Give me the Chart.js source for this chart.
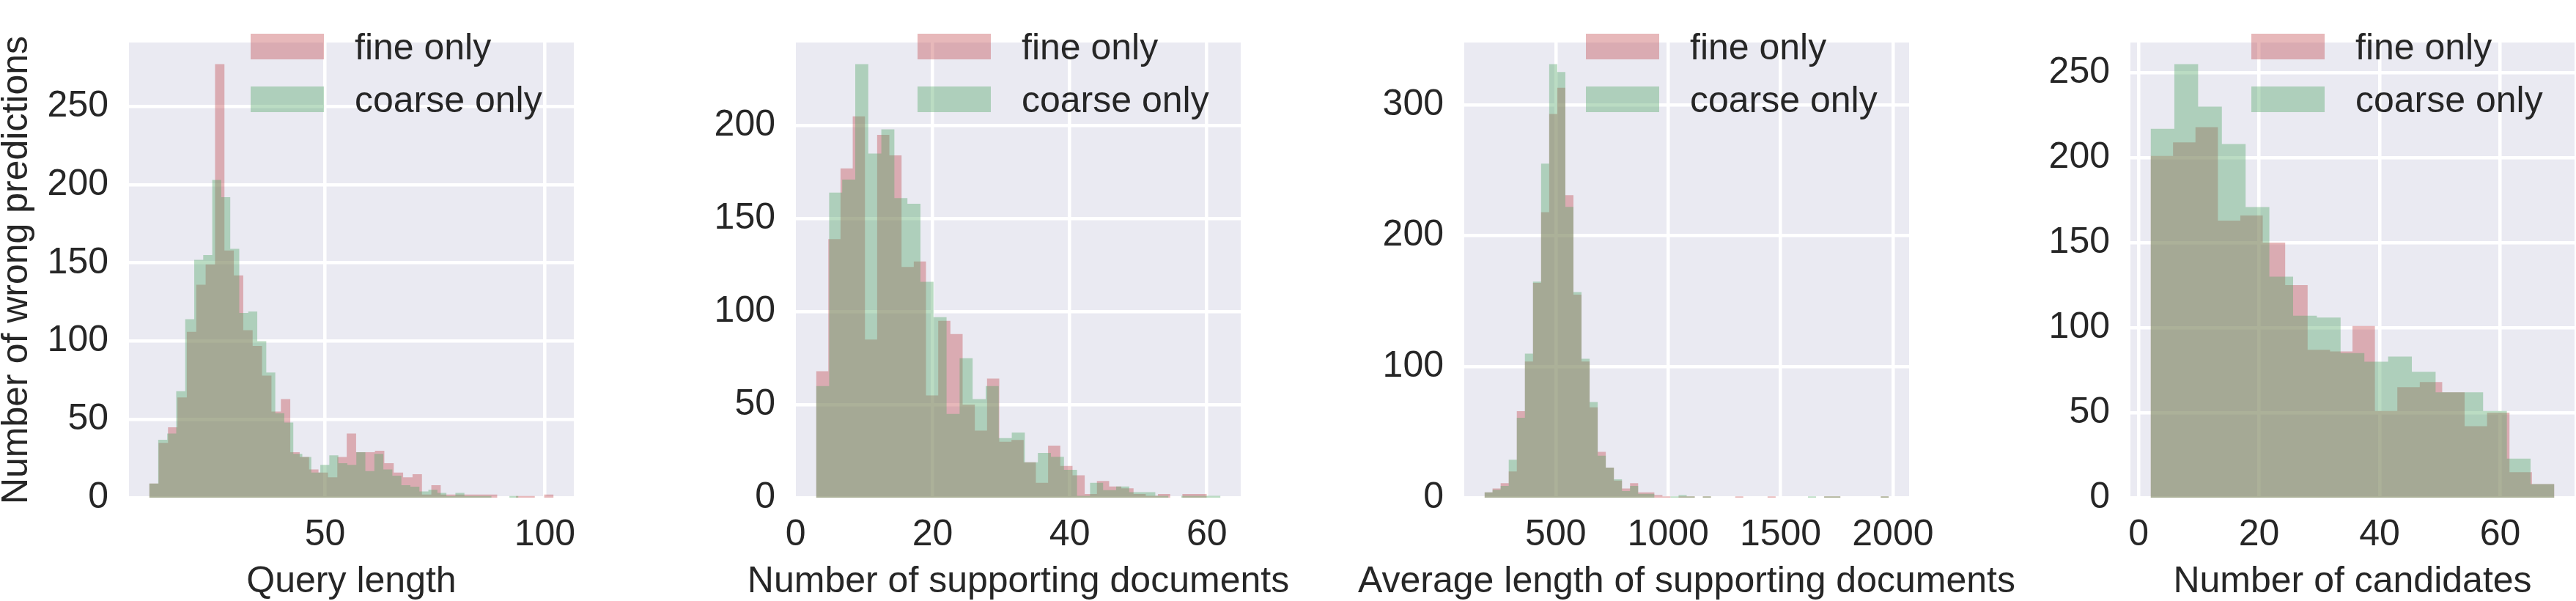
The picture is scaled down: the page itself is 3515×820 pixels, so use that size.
<!DOCTYPE html>
<html>
<head>
<meta charset="utf-8">
<script src="https://cdn.jsdelivr.net/npm/chart.js@4.4.0/dist/chart.umd.min.js"></script>
<style>
html,body{margin:0;padding:0;background:#ffffff;width:3515px;height:820px;overflow:hidden}
canvas{position:absolute;left:0;top:0}
</style>
</head>
<body>
<canvas id="c1" width="3515" height="820"></canvas>
<canvas id="c2" width="3515" height="820"></canvas>
<canvas id="c3" width="3515" height="820"></canvas>
<canvas id="c4" width="3515" height="820"></canvas>
<script>
// ---------------- DATA ----------------
const seriesNames = ['fine only', 'coarse only'];

// Panel 1: Query length
const qlFineRange = [10, 102];
const qlFine = [9,35,45,64,106,136,149,277,158,142,107,97,78,55,63,29,26,18,16,13,26,41,29,29,30,22,16,13,15,2,8,2,2,2,2,2,2,0,0,1,1,0,2];
const qlCoarseRange = [10, 94];
const qlCoarse = [9,37,41,68,114,152,155,203,192,159,118,119,100,80,54,48,28,26,16,21,27,22,21,29,17,28,18,14,8,7,4,5,3,1,3,1,1,1,0,0,1];
const qlXTicks = [50, 100];
const qlYTicks = [0, 50, 100, 150, 200, 250];

// Panel 2: Number of supporting documents
const sdFineRange = [3, 60];
const sdFine = [68,139,177,205,85,195,184,124,127,55,95,88,50,36,64,30,31,19,8,28,17,12,2,9,6,5,2,1,2,0,2,2];
const sdCoarseRange = [3, 62];
const sdCoarse = [60,164,171,233,185,198,161,158,116,97,45,75,53,60,32,35,19,24,22,15,1,8,4,6,3,3,1,0,1,1,1];
const sdXTicks = [0, 20, 40, 60];
const sdYTicks = [0, 50, 100, 150, 200];

// Panel 3: Average length of supporting documents
const alFineRange = [183, 1982];
const alFine = [4,7,11,20,66,104,164,218,293,313,231,155,104,69,35,23,13,7,11,4,4,2,1,0,1,1,0,1,0,0,0,1,0,0,0,1,0,0,0,0,0,0,1,1,0,0,0,0,0,1];
const alCoarseRange = [183, 1982];
const alCoarse = [4,6,9,29,61,110,165,255,331,325,222,157,106,73,32,23,14,5,9,3,3,0,0,1,2,1,0,1,0,0,0,0,0,0,0,0,0,0,0,0,1,0,1,1,0,0,0,0,0,1];
const alXTicks = [500, 1000, 1500, 2000];
const alYTicks = [0, 100, 200, 300];

// Panel 4: Number of candidates
const ncFineRange = [2, 69];
const ncFine = [201,209,218,163,166,150,125,87,86,101,51,65,68,62,42,50,15,8];
const ncCoarseRange = [2, 69];
const ncCoarse = [217,255,230,208,171,130,107,106,85,80,83,74,62,62,51,23,8];
const ncXTicks = [0, 20, 40, 60];
const ncYTicks = [0, 50, 100, 150, 200, 250];

const xTitles = ['Query length', 'Number of supporting documents', 'Average length of supporting documents', 'Number of candidates'];
const yTitle = 'Number of wrong predictions';

// ---------------- STYLE / LAYOUT ----------------
const FONT = '"Liberation Sans", Arial, Helvetica, sans-serif';
const FS = 50;
const TEXT = '#262626';
const PLOT_BG = '#EAEAF2';
const FINE_FILL = 'rgba(196,78,82,0.4)';
const COARSE_FILL = 'rgba(85,168,104,0.4)';
const W = 3515, H = 820;
const PLOT_BOTTOM = 679;

const panels = [
  {id:'c1', fine:qlFine, fineR:qlFineRange, coarse:qlCoarse, coarseR:qlCoarseRange, xt:qlXTicks, yt:qlYTicks, xTitle:xTitles[0], yTitle:yTitle, left:176, right:783, axw:176},
  {id:'c2', fine:sdFine, fineR:sdFineRange, coarse:sdCoarse, coarseR:sdCoarseRange, xt:sdXTicks, yt:sdYTicks, xTitle:xTitles[1], yTitle:null, left:1086, right:1693, axw:150},
  {id:'c3', fine:alFine, fineR:alFineRange, coarse:alCoarse, coarseR:alCoarseRange, xt:alXTicks, yt:alYTicks, xTitle:xTitles[2], yTitle:null, left:1998, right:2605, axw:150},
  {id:'c4', fine:ncFine, fineR:ncFineRange, coarse:ncCoarse, coarseR:ncCoarseRange, xt:ncXTicks, yt:ncYTicks, xTitle:xTitles[3], yTitle:null, left:2907, right:3513, axw:150}
];

function histPoints(counts, range) {
  const n = counts.length, w = (range[1] - range[0]) / n;
  const pts = counts.map((c, i) => ({x: range[0] + i * w, y: c}));
  pts.push({x: range[1], y: 0});
  return pts;
}

const deco = {
  id: 'deco',
  beforeDraw(chart) {
    const {ctx, chartArea: a} = chart;
    ctx.save();
    ctx.fillStyle = PLOT_BG;
    ctx.fillRect(a.left, a.top, a.right - a.left, a.bottom - a.top);
    ctx.restore();
  },
  afterDraw(chart, args, o) {
    const {ctx, chartArea: a} = chart;
    ctx.save();
    ctx.font = FS + 'px ' + FONT;
    ctx.fillStyle = TEXT;
    ctx.textBaseline = 'alphabetic';
    ctx.textAlign = 'center';
    ctx.fillText(o.xTitle, (a.left + a.right) / 2, 808);
    if (o.yTitle) {
      ctx.save();
      ctx.translate(37, (a.top + a.bottom) / 2);
      ctx.rotate(-Math.PI / 2);
      ctx.fillText(o.yTitle, 0, 0);
      ctx.restore();
    }
    // legend
    const ds = chart.data.datasets;
    ctx.textAlign = 'left';
    ds.forEach((d, i) => {
      const top = 46 + i * 72;
      ctx.fillStyle = d.backgroundColor;
      ctx.fillRect(a.right - 441, top, 100, 35);
      ctx.fillStyle = TEXT;
      ctx.fillText(d.label, a.right - 299, top + 35);
    });
    ctx.restore();
  }
};

panels.forEach(p => {
  const lo = Math.min(p.fineR[0], p.coarseR[0]);
  const hi = Math.max(p.fineR[1], p.coarseR[1]);
  const xmin = lo - 0.05 * (hi - lo), xmax = hi + 0.05 * (hi - lo);
  const ymax = 1.05 * Math.max(...p.fine, ...p.coarse);
  const tickFont = {family: FONT, size: FS, lineHeight: 1.2};
  new Chart(document.getElementById(p.id), {
    type: 'line',
    data: {
      datasets: [
        {label: seriesNames[0], data: histPoints(p.fine, p.fineR), order: 1,
         stepped: 'before', fill: 'origin', backgroundColor: FINE_FILL,
         borderColor: 'rgba(0,0,0,0)', borderWidth: 0, pointRadius: 0, tension: 0},
        {label: seriesNames[1], data: histPoints(p.coarse, p.coarseR), order: 0,
         stepped: 'before', fill: 'origin', backgroundColor: COARSE_FILL,
         borderColor: 'rgba(0,0,0,0)', borderWidth: 0, pointRadius: 0, tension: 0}
      ]
    },
    options: {
      responsive: false,
      devicePixelRatio: 1,
      animation: false,
      events: [],
      layout: {padding: {left: p.left - p.axw, right: W - p.right, top: 0, bottom: 0}},
      plugins: {
        legend: {display: false},
        tooltip: {enabled: false},
        deco: {xTitle: p.xTitle, yTitle: p.yTitle}
      },
      scales: {
        x: {
          type: 'linear', min: xmin, max: xmax,
          afterBuildTicks: s => { s.ticks = p.xt.map(v => ({value: v})); },
          afterFit: s => { s.height = H - PLOT_BOTTOM; },
          grid: {color: c => (c.tick && c.tick.value >= xmin && c.tick.value <= xmax) ? '#ffffff' : 'rgba(0,0,0,0)', lineWidth: 4.5, drawTicks: false},
          border: {display: false},
          ticks: {font: tickFont, color: TEXT, padding: 21, autoSkip: false, maxRotation: 0, callback: v => String(v)}
        },
        y: {
          type: 'linear', min: 0, max: ymax,
          afterBuildTicks: s => { s.ticks = p.yt.map(v => ({value: v})); },
          afterFit: s => { s.width = p.axw; },
          grid: {color: '#ffffff', lineWidth: 4.5, drawTicks: false},
          border: {display: false},
          ticks: {font: tickFont, color: TEXT, padding: 28, autoSkip: false, callback: v => String(v)}
        }
      }
    },
    plugins: [deco]
  });
});
</script>
</body>
</html>
